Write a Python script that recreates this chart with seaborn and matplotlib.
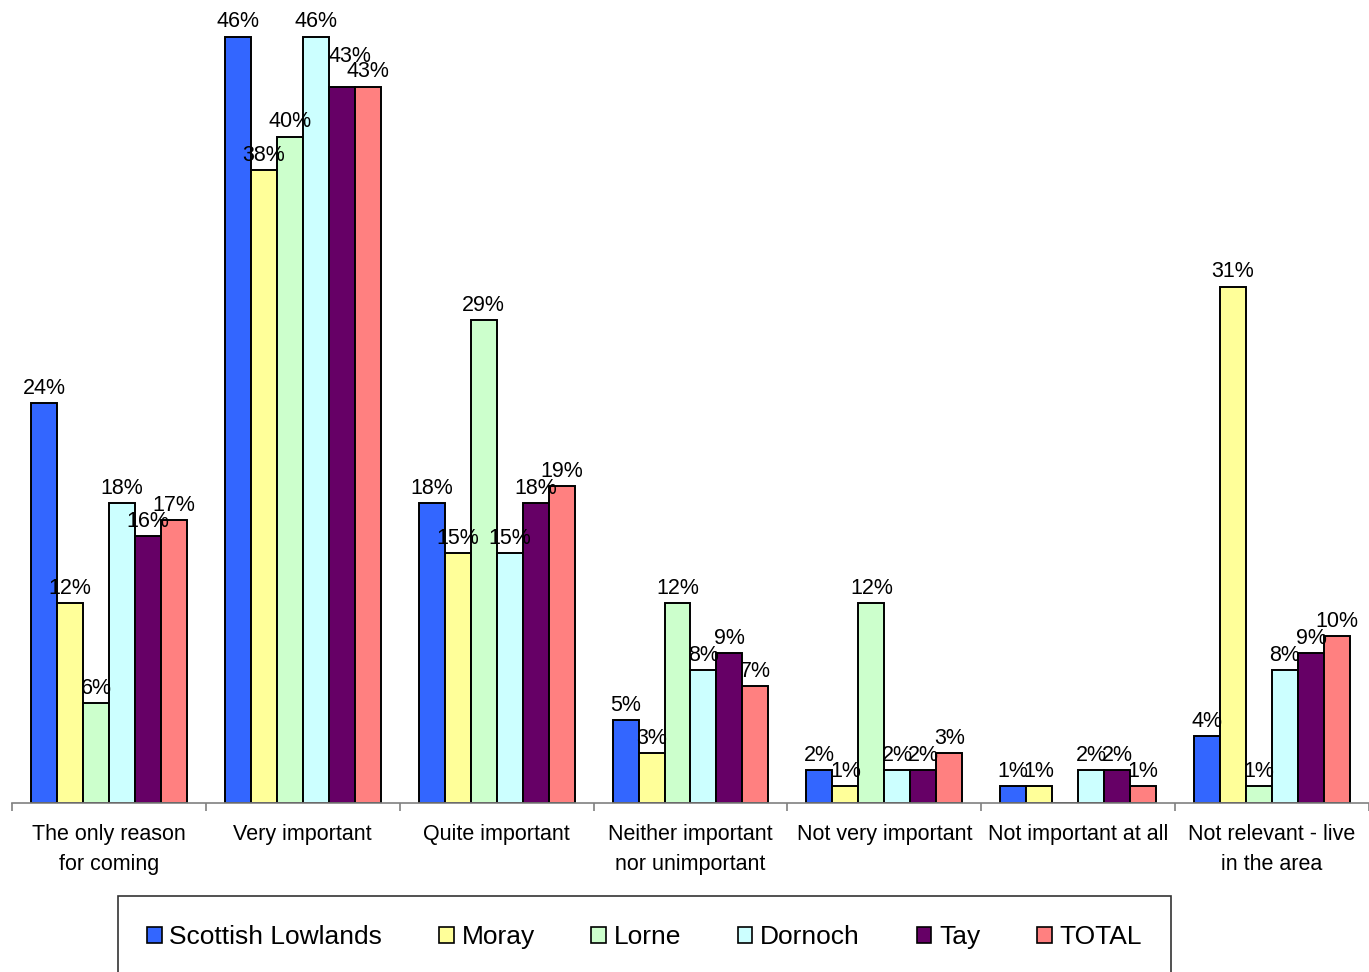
import pandas as pd
import seaborn as sns
import matplotlib.pyplot as plt

categories = ["The only reason\nfor coming", "Very important", "Quite important",
              "Neither important\nnor unimportant", "Not very important",
              "Not important at all", "Not relevant - live\nin the area"]
series = ["Scottish Lowlands", "Moray", "Lorne", "Dornoch", "Tay", "TOTAL"]

scottish_lowlands = [24, 46, 18, 5, 2, 1, 4]
moray = [12, 38, 15, 3, 1, 1, 31]
lorne = [6, 40, 29, 12, 12, 0, 1]
dornoch = [18, 46, 15, 8, 2, 2, 8]
tay = [16, 43, 18, 9, 2, 2, 9]
total = [17, 43, 19, 7, 3, 1, 10]

colors = ["#3366FF", "#FFFF99", "#CCFFCC", "#CCFFFF", "#660066", "#FF8080"]


def main():
    values = [scottish_lowlands, moray, lorne, dornoch, tay, total]
    rows = []
    for s, vals in zip(series, values):
        for c, v in zip(categories, vals):
            rows.append({"category": c, "series": s, "value": v})
    df = pd.DataFrame(rows)

    sns.set_style("white")
    plt.rcParams["font.family"] = ["Liberation Sans", "DejaVu Sans"]
    plt.rcParams["text.color"] = "black"
    plt.rcParams["xtick.color"] = "black"
    plt.rcParams["xtick.labelcolor"] = "black"

    fig = plt.figure(figsize=(13.69, 9.72), dpi=100)
    ax = fig.add_axes([12 / 1369, 1 - 803 / 972, 1 - 12 / 1369, 803 / 972])

    sns.barplot(data=df, x="category", y="value", hue="series",
                order=categories, hue_order=series, palette=colors,
                width=0.804, gap=0, edgecolor="black", linewidth=1.4,
                saturation=1, ax=ax)

    # rótulos de dados (o 43% do Tay sobe um pouco, como no original)
    for cont, vals, s in zip(ax.containers, values, series):
        labels = [f"{v}%" if v > 0 else "" for v in vals]
        texts = ax.bar_label(cont, labels=labels, padding=3, fontsize=15.5)
        if s == "Tay":
            texts[1].set_position((6, 14))

    ax.set_xlim(-0.5, 6.5)
    ax.set_ylim(0, 48.2)
    ax.set_xlabel("")
    ax.set_ylabel("")
    ax.set_yticks([])
    for side in ["top", "right", "left"]:
        ax.spines[side].set_visible(False)
    ax.spines["bottom"].set_color("#808080")
    ax.spines["bottom"].set_linewidth(1.2)

    ax.set_xticks(range(len(categories)))
    ax.set_xticklabels(categories, fontsize=15.5, linespacing=1.55)
    ax.tick_params(axis="x", which="major", length=0, pad=15)
    ax.set_xticks([i - 0.5 for i in range(len(categories) + 1)], minor=True)
    ax.tick_params(axis="x", which="minor", length=6, width=1.2,
                   color="#808080", direction="out", bottom=True)

    handles, labels = ax.get_legend_handles_labels()
    ax.get_legend().remove()
    leg = fig.legend(handles, labels, loc="center", ncol=6, mode="expand",
                     bbox_to_anchor=(118 / 1369, -7 / 972, 1053 / 1369, 84 / 972),
                     fontsize=19, frameon=True, fancybox=False,
                     borderpad=1.1, handlelength=0.55, handleheight=0.55,
                     handletextpad=0.3, columnspacing=1.0, borderaxespad=0)
    leg.get_frame().set_edgecolor("black")
    leg.get_frame().set_linewidth(1.2)
    for h in leg.legend_handles:
        h.set_edgecolor("black")
        h.set_linewidth(1.2)

    plt.savefig("out.png", dpi=100)
    plt.close()


if __name__ == "__main__":
    main()
